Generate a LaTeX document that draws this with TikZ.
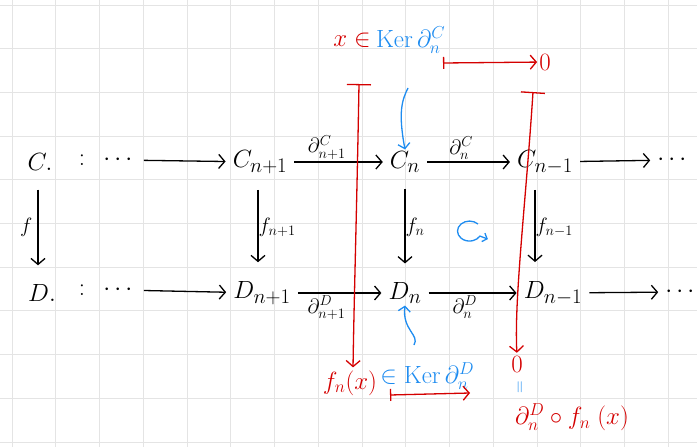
\documentclass[tikz,border=0pt]{standalone}
\usepackage{amsmath,amssymb}
\usepackage{xcolor}
\usepackage{tikz}
\usetikzlibrary{arrows.meta}
\definecolor{inkred}{HTML}{D40000}
\definecolor{inkblue}{HTML}{1E8CF0}
\definecolor{gridgray}{HTML}{E4E4E4}

\begin{document}
\begin{tikzpicture}[
    x=1pt, y=-1pt,
    obj/.style={inner sep=2pt, font=\fontsize{29}{32}\selectfont},
    lbl/.style={inner sep=2pt, font=\fontsize{22}{26}\selectfont},
    chase/.style={inner sep=1pt, font=\fontsize{27}{30}\selectfont},
    map/.style={-{Straight Barb[length=6pt,width=14pt]}, line width=1.3pt, shorten <=5pt, shorten >=5pt},
    down/.style={map, shorten <=17pt, shorten >=17pt},
    redmap/.style={inkred, line width=1.3pt, {Bar[width=24pt]}-{Straight Barb[length=6pt,width=14pt]}},
    mapsto/.style={inkred, line width=1.3pt, {Bar[width=12pt]}-{Straight Barb[length=6pt,width=14pt]}},
    bluemap/.style={inkblue, line width=1.3pt, -{Straight Barb[length=5pt,width=12pt]}}
]
\useasboundingbox (0,0) rectangle (697,447);
% grid paper
\foreach \gx in {0,...,15} \draw[gridgray, line width=1pt] (12+43.75*\gx,0) -- (12+43.75*\gx,447);
\foreach \gy in {0,...,10} \draw[gridgray, line width=1pt] (0,5+43.7*\gy) -- (697,5+43.7*\gy);

% top row
\node[obj] (Cdot) at (40,162) {$C.$};
\node[obj] (Ccol) at (82,160) {$:$};
\node[obj] (Cdots) at (120,160) {$\cdots$};
\node[obj] (Cn1) at (260,162) {$C_{n+1}$};
\node[obj] (Cn) at (405,162) {$C_{n}$};
\node[obj] (Cm) at (545,162) {$C_{n-1}$};
\node[obj] (Cend) at (674,160) {$\cdots$};
% bottom row
\node[obj] (Ddot) at (42,293) {$D.$};
\node[obj] (Dcol) at (82,290) {$:$};
\node[obj] (Ddots) at (120,290) {$\cdots$};
\node[obj] (Dn1) at (262,293) {$D_{n+1}$};
\node[obj] (Dn) at (405,293) {$D_{n}$};
\node[obj] (Dm) at (553,293) {$D_{n-1}$};
\node[obj] (Dend) at (682,292) {$\cdots$};

% horizontal maps
\draw[map] (Cdots) -- (Cn1);
\draw[map] (Cn1) -- node[lbl, above, pos=0.38] {$\partial^{C}_{n+1}$} (Cn);
\draw[map] (Cn) -- node[lbl, above, pos=0.42] {$\partial^{C}_{n}$} (Cm);
\draw[map] (Cm) -- (Cend);
\draw[map] (Ddots) -- (Dn1);
\draw[map] (Dn1) -- node[lbl, below, pos=0.36] {$\partial^{D}_{n+1}$} (Dn);
\draw[map] (Dn) -- node[lbl, below, pos=0.42] {$\partial^{D}_{n}$} (Dm);
\draw[map] (Dm) -- (Dend);

% vertical maps
\draw[down] (Cdot.south -| 38,0) -- node[lbl, left=3pt] {$f$} (Ddot.north -| 38,0);
\draw[down, shorten <=14pt] (Cn1.south -| 258,0) -- node[lbl, right, inner sep=0pt] {$f_{n+1}$} (Dn1.north -| 258,0);
\draw[down, shorten <=14pt] (Cn) -- node[lbl, right, inner sep=0pt] {$f_{n}$} (Dn);
\draw[down, shorten <=14pt] (Cm.south -| 535,0) -- node[lbl, right, inner sep=0pt] {$f_{n-1}$} (Dm.north -| 535,0);

% commutes
\draw[inkblue, line width=1.3pt, -{Straight Barb[length=4pt,width=9pt]}] (478,224) arc[start angle=-45, end angle=-330, x radius=12, y radius=10] -- ++(8,3);

% element chase, top
\node[chase, inkred] (xin) at (352,40) {$x\in$};
\node[chase, inkblue, anchor=west] (kerC) at ([xshift=3pt]xin.east) {$\mathrm{Ker}\,\partial^{C}_{n}$};
\node[chase, inkred] (zeroC) at (545,62) {$0$};
\coordinate (xtail) at (443,63);
\draw[mapsto, shorten >=1pt] (xtail) -- (zeroC);
\coordinate (kerfoot) at (408,88);
\draw[bluemap] (kerfoot) .. controls (402,100) and (398,112) .. (Cn.north);

% element chase, verticals
\coordinate (barL) at (359,84);
\coordinate (barR) at (533,92);
\node[chase, inkred] (fnx) at (350,383) {$f_n(x)$};
\node[chase, inkblue, anchor=south west] (kerD) at ([xshift=1pt, yshift=6pt]fnx.south east) {$\in\mathrm{Ker}\,\partial^{D}_{n}$};
\node[chase, inkred] (zeroD) at (517,364) {$0$};
\node[chase, inkblue, rotate=90, scale=0.7] (eqD) at (521,387) {$=$};
\node[chase, inkred] (dfx) at (572,417) {$\partial^{D}_{n}\circ f_n\;(x)$};
\draw[redmap, shorten >=2pt] (barL) .. controls (357,200) and (354,300) .. (fnx.north -| 353,0);
\draw[redmap, shorten >=2pt] (barR) .. controls (526,200) and (514,300) .. (zeroD.north);
\coordinate (fxtail) at (390,395);
\coordinate (fxhead) at (470,393);
\draw[mapsto] (fxtail) -- (fxhead);
\coordinate (kerDfoot) at (414,345);
\draw[bluemap] (kerDfoot) .. controls (420,335) and (402,330) .. (Dn.south);
\end{tikzpicture}
\end{document}
